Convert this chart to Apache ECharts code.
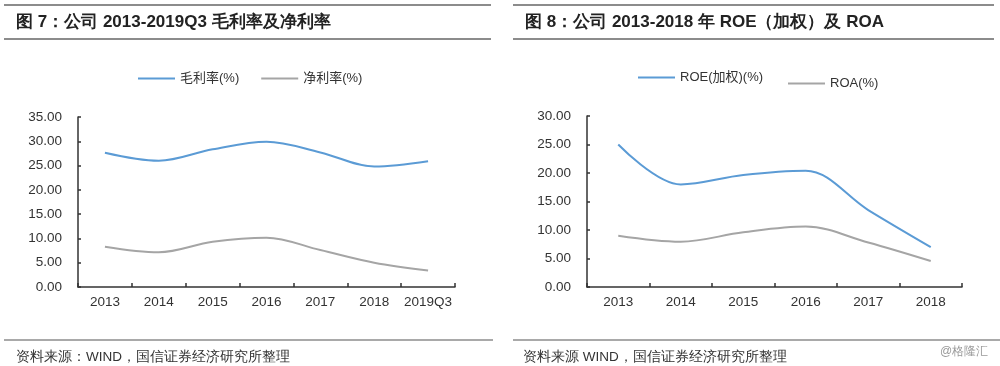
<!DOCTYPE html>
<html><head><meta charset="utf-8">
<script src="https://cdn.jsdelivr.net/npm/echarts@6/dist/echarts.min.js"></script>
<style>html,body{margin:0;padding:0;background:#fff}#c{width:1000px;height:366px}</style>
</head><body><div id="c"></div>
<script>
var categoriesL = ['2013','2014','2015','2016','2017','2018','2019Q3'];
var grossMargin = [27.65, 26.0, 28.35, 29.9, 27.7, 24.8, 25.9];
var netMargin = [8.3, 7.15, 9.3, 10.15, 7.6, 5.0, 3.4];
var categoriesR = ['2013','2014','2015','2016','2017','2018'];
var roe = [25.0, 18.0, 19.65, 20.4, 13.5, 7.0];
var roa = [9.0, 7.95, 9.6, 10.6, 7.8, 4.55];
var ticksL = [0, 35, 5];
var ticksR = [0, 30, 5];

var FONT = '"Liberation Sans", Arial, "Noto Sans CJK SC", sans-serif';
var BLUE = '#5b9bd5', GRAY = '#a5a5a5', AX = '#333';
var chart = echarts.init(document.getElementById('c'));

function yAxis(idx, t) {
  return {type:'value', gridIndex:idx, min:t[0], max:t[1], interval:t[2],
    axisLine:{show:true, lineStyle:{color:AX, width:1.5}},
    axisTick:{show:true, inside:true, length:3, lineStyle:{color:AX, width:1.5}},
    splitLine:{show:false},
    axisLabel:{formatter:function(v){return v.toFixed(2);}, color:'#333', fontSize:13.5, fontFamily:FONT, margin:16}};
}
function xAxis(idx, cats) {
  return {type:'category', gridIndex:idx, data:cats, boundaryGap:true,
    axisLine:{lineStyle:{color:AX, width:1.5}},
    axisTick:{show:true, inside:true, length:4, lineStyle:{color:AX, width:1.5}},
    axisLabel:{interval:0, color:'#333', fontSize:13.5, fontFamily:FONT, margin:9}};
}
function ln(name, data, color, xi, yi) {
  return {name:name, type:'line', xAxisIndex:xi, yAxisIndex:yi, data:data, smooth:0.35,
    showSymbol:false, symbol:'none', lineStyle:{color:color, width:2}, itemStyle:{color:color}};
}
function legend(names, left, top) {
  return {data:names, left:left, top:top, icon:'rect', itemWidth:37, itemHeight:2, itemGap:22,
    textStyle:{color:'#333', fontSize:13, fontFamily:FONT}};
}
var lineC = '#8c8c8c';
function hline(x1, x2, y, w) {
  return {type:'line', shape:{x1:x1, y1:y, x2:x2, y2:y}, style:{stroke:lineC, lineWidth:w}};
}
function txt(x, y, s, size, bold, color) {
  return {type:'text', x:x, y:y, style:{text:s, fontSize:size, fontWeight:bold?'bold':'normal',
    fill:color||'#222', font:(bold?'bold ':'')+size+'px '+FONT, textVerticalAlign:'middle'}};
}

chart.setOption({
  animation:false,
  grid:[{left:78, top:117, width:377, height:170},{left:587, top:116, width:375, height:171}],
  xAxis:[xAxis(0, categoriesL), xAxis(1, categoriesR)],
  yAxis:[yAxis(0, ticksL), yAxis(1, ticksR)],
  legend:[legend(['毛利率(%)','净利率(%)'], 133, 67), legend(['ROE(加权)(%)'], 633, 66), legend(['ROA(%)'], 783, 72)],
  series:[ln('毛利率(%)', grossMargin, BLUE, 0, 0), ln('净利率(%)', netMargin, GRAY, 0, 0),
          ln('ROE(加权)(%)', roe, BLUE, 1, 1), ln('ROA(%)', roa, GRAY, 1, 1)],
  graphic:[
    hline(4, 491, 5, 2), hline(4, 491, 39, 2), hline(513, 994, 5, 2), hline(513, 994, 39, 2),
    hline(4, 493, 340, 1.5), hline(513, 1000, 340, 1.5),
    txt(16, 22, '图 7：公司 2013-2019Q3 毛利率及净利率', 17, true),
    txt(525, 22, '图 8：公司 2013-2018 年 ROE（加权）及 ROA', 17, true),
    txt(16, 357, '资料来源：WIND，国信证券经济研究所整理', 13.5, false, '#333'),
    txt(523, 357, '资料来源 WIND，国信证券经济研究所整理', 13.5, false, '#333'),
    txt(940, 352, '@格隆汇', 12, false, '#999')
  ]
});
</script></body></html>
